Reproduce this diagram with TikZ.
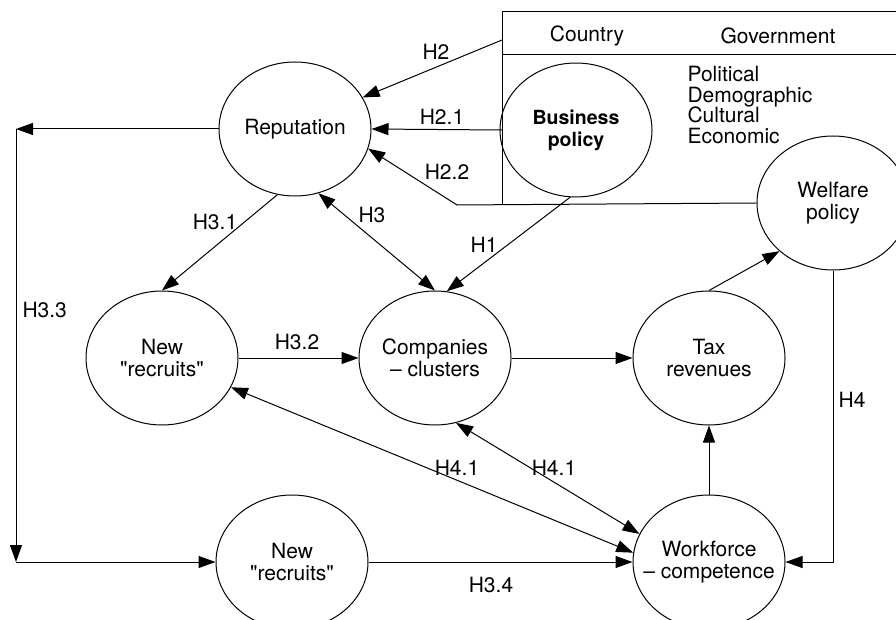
\documentclass[tikz,border=0pt]{standalone}
\usepackage{fontspec}
\setmainfont{TeX Gyre Heros}
\usetikzlibrary{arrows.meta,shapes.geometric}

\begin{document}
\begin{tikzpicture}[x=1pt,y=-1pt,line width=1pt,
        every node/.style={font=\fontsize{21}{22}\selectfont},
        bubble/.style={draw,ellipse,minimum width=152pt,minimum height=134pt,inner xsep=-20pt,inner ysep=0pt,align=center},
        hyp/.style={inner sep=0pt},
        >={Triangle[length=17pt,width=12pt]}]
            \useasboundingbox (0,0) rectangle (896,620);
            % country / government frame
            \draw (896,12) -- (502,12) -- (502,205);
            \draw (502,55) -- (896,55);
            \node[hyp] (country) at (587,36) {Country};
            \node[hyp] (gov) at (778,36) {Government};
            \node[hyp,anchor=north west,align=left,font=\fontsize{21}{20.5}\selectfont] (factors) at (687,66) {Political\\Demographic\\Cultural\\Economic};
            % bubbles
            \node[bubble] (rep) at (295,129) {Reputation};
            \node[bubble,font=\fontsize{19.5}{22}\selectfont\bfseries] (biz) at (576,130) {Business\\policy};
            \node[bubble] (wel) at (833,203) {Welfare\\policy};
            \node[bubble] (nr1) at (162,358) {New\\\textquotedbl recruits\textquotedbl};
            \node[bubble] (comp) at (435,358) {Companies\\– clusters};
            \node[bubble] (tax) at (709,358) {Tax\\revenues};
            \node[bubble] (nr2) at (292,562) {New\\\textquotedbl recruits\textquotedbl};
            \node[bubble] (wf) at (709,562) {Workforce\\– competence};
            \coordinate (h2) at (502,40);
            \coordinate (h21) at (502,130);
            \coordinate (h22) at (457,205);
            \coordinate (lc1) at (16,129);
            \coordinate (lc2) at (16,562);
            % connectors
            \draw[->] (h2) -- (rep.25);
            \draw[->] (h21) -- (rep.east);
            \draw[->] (wel.west) -- (h22) -- (rep.-15);
            \draw[->] (biz.265) -- (comp.80);
            \draw[<->] (rep.290) -- (comp.north);
            \draw[->] (rep.255) -- (nr1.north);
            \draw[->] (nr1.east) -- (comp.west);
            \draw[->] (comp.east) -- (tax.west);
            \draw[->] (tax.north) -- (wel.222);
            \draw[->] (wf.north) -- (tax.south);
            \draw[->] (wel.south) |- (wf.east);
            \draw[<->] (nr1.-23) -- (wf.173);
            \draw[<->] (comp.-72) -- (wf.158);
            \draw[->] (nr2.east) -- (wf.west);
            \draw[->] (rep.west) -- (lc1);
            \draw[->] (lc1) -- (lc2);
            \draw[->] (lc2) -- (nr2.west);
            % labels
            \node[hyp] (lh2) at (436,52) {H2};
            \node[hyp] (lh21) at (442,117) {H2.1};
            \node[hyp] (lh22) at (447,172) {H2.2};
            \node[hyp] (lh1) at (484,245) {H1};
            \node[hyp] (lh3) at (372,215) {H3};
            \node[hyp] (lh31) at (215,222) {H3.1};
            \node[hyp] (lh32) at (297,342) {H3.2};
            \node[hyp,anchor=west] (lh33) at (22,310) {H3.3};
            \node[hyp] (lh34) at (491,585) {H3.4};
            \node[hyp] (lh4) at (852,400) {H4};
            \node[hyp] (lh41a) at (457,468) {H4.1};
            \node[hyp] (lh41b) at (554,468) {H4.1};
        \end{tikzpicture}
\end{document}
